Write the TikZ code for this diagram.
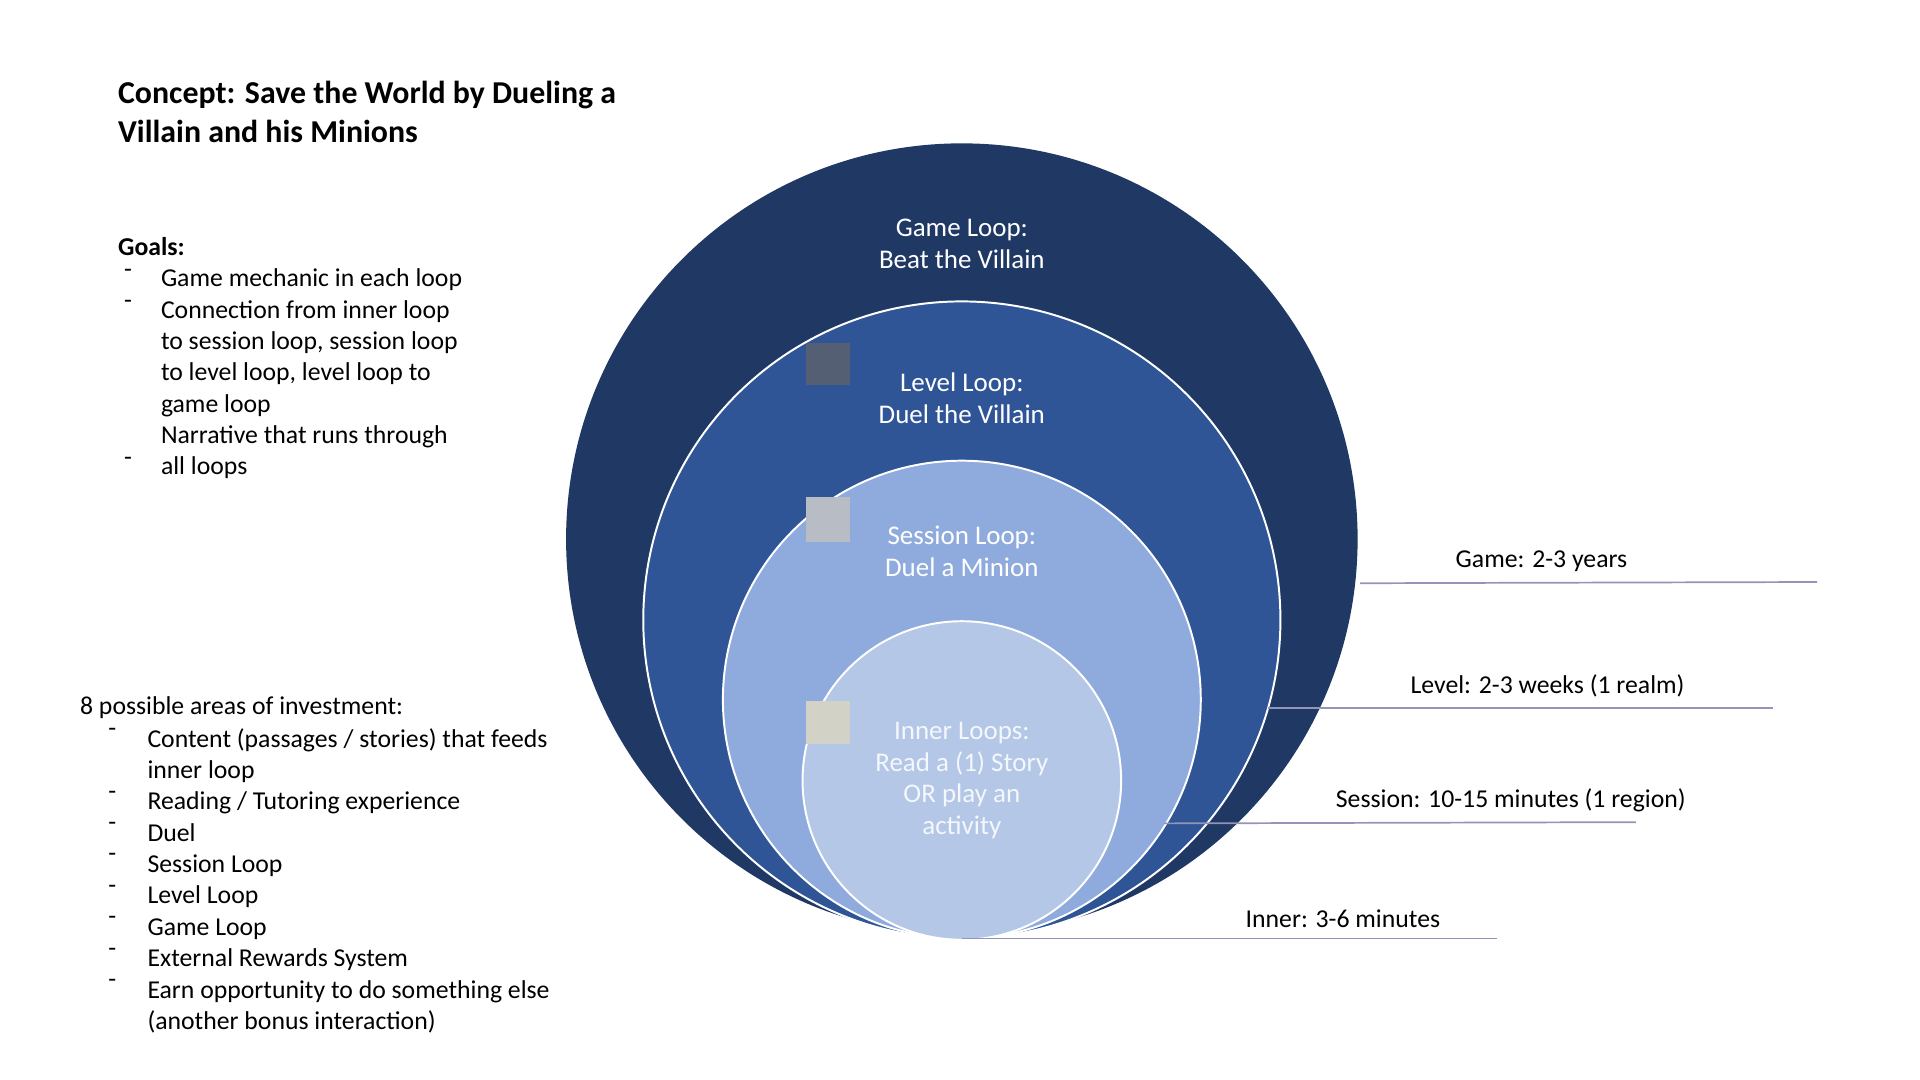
\documentclass[tikz,border=0pt]{standalone}
\usepackage{fontspec}
\setmainfont{Carlito}
\begin{document}
\begin{tikzpicture}[x=0.5pt,y=-0.5pt,
  txt/.style={inner sep=0pt,align=left,anchor=north west,font=\fontsize{10.5}{12.8}\selectfont},
  ctxt/.style={inner sep=0pt,align=center,font=\fontsize{11}{13}\selectfont,text=white},
  lab/.style={inner sep=0pt,font=\fontsize{10.5}{12.8}\selectfont},
  ring/.style={draw=white,line width=0.8pt},
  tl/.style={draw=gray!80!blue!70,line width=0.7pt}]
\definecolor{cA}{HTML}{1F3864}\definecolor{cB}{HTML}{2F5597}
\definecolor{cC}{HTML}{8FAADC}\definecolor{cD}{HTML}{B4C7E7}
\useasboundingbox[fill=white] (0,0) rectangle (1567,881);
\fill[cA] (785,440) circle (323);
\path[ring,fill=cB] (785,506) circle (260);
\path[ring,fill=cC] (785,571) circle (195);
\path[ring,fill=cD] (785,637) circle (130);
\fill[fill=gray!55!cA] (658,280) rectangle (694,314);
\fill[fill=gray!50!white!85!cC] (658,406) rectangle (694,442);
\fill[fill=yellow!12!gray!45!white] (658,572) rectangle (694,607);
\node[ctxt] (g) at (785,199) {Game Loop:\\Beat the Villain};
\node[ctxt] (l) at (785,325) {Level Loop:\\Duel the Villain};
\node[ctxt] (s) at (785,450) {Session Loop:\\Duel a Minion};
\node[ctxt,text=white!85!cD] (i) at (785,637) {Inner Loops:\\Read a (1) Story\\OR play an\\activity};
\node[txt,font=\fontsize{13}{16}\selectfont\bfseries] (t) at (96,66) {Concept: Save the World by Dueling a\\Villain and his Minions};
\node[txt] (goals) at (96,193) {\textbf{Goals:}};
\node[txt] (gl) at (101,219) {-\\-\\\\\\\\\\-};
\node[txt] (gi) at (131,219) {Game mechanic in each loop\\Connection from inner loop\\to session loop, session loop\\to level loop, level loop to\\game loop\\Narrative that runs through\\all loops};
\node[txt] (inv) at (65,568) {8 possible areas of investment:};
\node[txt] (il) at (88,594) {-\\\\-\\-\\-\\-\\-\\-\\-};
\node[txt] (ii) at (120,594) {Content (passages / stories) that feeds\\inner loop\\Reading / Tutoring experience\\Duel\\Session Loop\\Level Loop\\Game Loop\\External Rewards System\\Earn opportunity to do something else\\(another bonus interaction)};
\coordinate (g1) at (1110,476); \coordinate (g2) at (1483,475);
\coordinate (l1) at (1035,578); \coordinate (l2) at (1447,578);
\coordinate (s1) at (950,672); \coordinate (s2) at (1335,671);
\coordinate (i1) at (785,766); \coordinate (i2) at (1222,766);
\draw[tl] (g1) -- (g2); \draw[tl] (l1) -- (l2);
\draw[tl] (s1) -- (s2); \draw[tl] (i1) -- (i2);
\node[lab] (gL) at (1258,458) {Game: 2-3 years};
\node[lab] (lL) at (1263,560) {Level: 2-3 weeks (1 realm)};
\node[lab] (sL) at (1233,653) {Session: 10-15 minutes (1 region)};
\node[lab] (iL) at (1096,750) {Inner: 3-6 minutes};
\end{tikzpicture}
\end{document}
